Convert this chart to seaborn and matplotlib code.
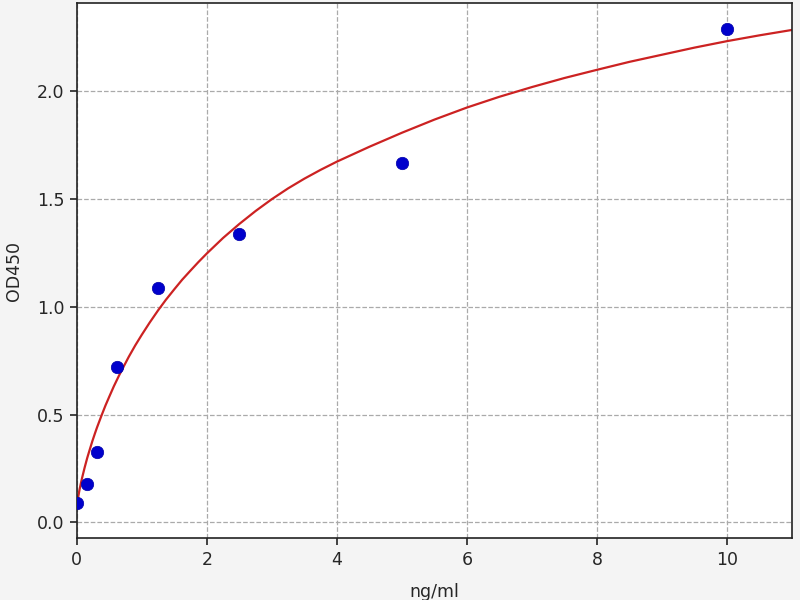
import numpy as np
import pandas as pd
import matplotlib
matplotlib.use('Agg')
from matplotlib import pyplot as plt
import seaborn as sns

# standard points (ng/ml vs OD450)
conc = [0, 0.156, 0.312, 0.625, 1.25, 2.5, 5, 10]
od = [0.09, 0.18, 0.325, 0.72, 1.09, 1.34, 1.67, 2.29]

# fitted curve
curve_x = [0, 0.02, 0.04, 0.06, 0.08, 0.12, 0.16, 0.2, 0.24, 0.28, 0.31, 0.38, 0.44, 0.5,
           0.57, 0.65, 0.72, 0.8, 0.9, 1.0, 1.12, 1.25, 1.37, 1.5, 1.62, 1.75, 1.87, 2,
           2.25, 2.5, 2.75, 3, 3.25, 3.5, 3.75, 4, 4.5, 5, 5.5, 6, 6.5, 7, 7.5, 8, 8.5,
           9, 9.5, 10, 10.5, 11]
curve_y = [0.08, 0.116, 0.149, 0.178, 0.205, 0.254, 0.299, 0.339, 0.378, 0.414, 0.44, 0.496,
           0.542, 0.584, 0.632, 0.682, 0.723, 0.769, 0.822, 0.871, 0.927, 0.984, 1.033,
           1.082, 1.126, 1.169, 1.208, 1.248, 1.32, 1.385, 1.445, 1.5, 1.55, 1.595, 1.636,
           1.674, 1.743, 1.808, 1.869, 1.925, 1.975, 2.02, 2.062, 2.10, 2.137, 2.17, 2.203,
           2.233, 2.26, 2.285]

pts = pd.DataFrame({'conc': conc, 'od': od})
fit = pd.DataFrame({'x': curve_x, 'y': curve_y})

sns.set_style('white')
plt.rcParams['font.family'] = ['DejaVu Sans']

fig = plt.figure(figsize=(8, 6), dpi=100, facecolor='#f4f4f4')
ax = fig.add_axes([0.096, 0.103, 0.894, 0.892])
ax.set_facecolor('white')

sns.lineplot(data=fit, x='x', y='y', ax=ax, color='#cc2222', linewidth=1.6, zorder=2)
sns.scatterplot(data=pts, x='conc', y='od', ax=ax, color='#0000cc', s=80,
                edgecolor='#0000aa', linewidth=0.5, zorder=3)

ax.set_xlim(0, 11)
ax.set_ylim(-0.073, 2.41)
ax.set_xticks([0, 2, 4, 6, 8, 10])
ax.set_yticks([0.0, 0.5, 1.0, 1.5, 2.0])
ax.yaxis.set_major_formatter(matplotlib.ticker.FormatStrFormatter('%.1f'))
ax.grid(True, linestyle='--', color='#aaaaaa', linewidth=0.9)
ax.tick_params(axis='both', which='major', labelsize=12.5, length=5, width=1.2, pad=4,
               left=True, bottom=True, color='#222222')
for s in ax.spines.values():
    s.set_color('#222222')
    s.set_linewidth(1.2)

ax.set_xlabel('ng/ml', fontsize=12.5, labelpad=10)
ax.set_ylabel('OD450', fontsize=12.5, labelpad=10)

fig.savefig('out.png', dpi=100, facecolor=fig.get_facecolor())
